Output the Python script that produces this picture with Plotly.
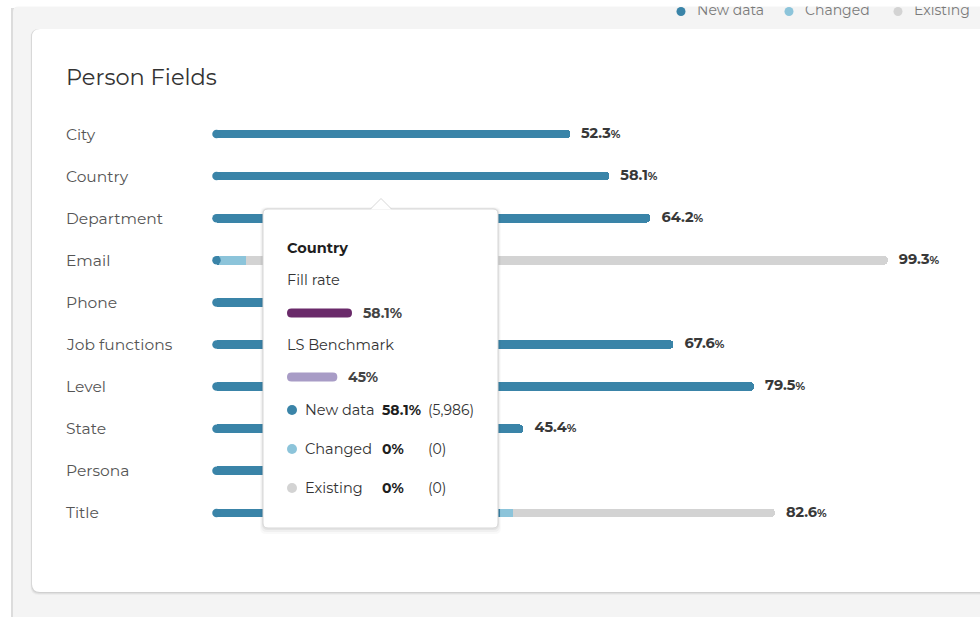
import plotly.graph_objects as go

# ---------------- data ----------------
categories = ["City", "Country", "Department", "Email", "Phone",
              "Job functions", "Level", "State", "Persona", "Title"]
new_data = [52.3, 58.1, 64.2, 0.3, 27.4, 67.6, 79.5, 45.4, 21.8, 41.9]
changed = [0, 0, 0, 4.0, 0, 0, 0, 0, 0, 2.0]
existing = [0, 0, 0, 95.0, 0, 0, 0, 0, 0, 38.7]
series_names = ["New data", "Changed", "Existing"]
series_colors = ["#3a84a8", "#8cc4da", "#d3d3d3"]

chart_title = "Person Fields"
tooltip_field = "Country"
tooltip_fill_rate = 58.1
tooltip_benchmark = 45
tooltip_pcts = [58.1, 0, 0]
tooltip_counts = [5986, 0, 0]

# ---------------- layout helpers ----------------
W, H = 980, 617
X0, SX = 216.5, 6.76      # pixel of 0 %, pixels per %
Y0, SY = 134.0, 42.1      # pixel of first row, pixels per row
FONT = "Montserrat, Inter, sans-serif"

def px(x):
    return x / W

def py(y):
    return 1 - y / H

def rrect_path(x0, y0, x1, y1, r):
    pts = [
        ("M", [(x0 + r, y0)]), ("L", [(x1 - r, y0)]), ("Q", [(x1, y0), (x1, y0 + r)]),
        ("L", [(x1, y1 - r)]), ("Q", [(x1, y1), (x1 - r, y1)]),
        ("L", [(x0 + r, y1)]), ("Q", [(x0, y1), (x0, y1 - r)]),
        ("L", [(x0, y0 + r)]), ("Q", [(x0, y0), (x0 + r, y0)]),
    ]
    s = ""
    for cmd, ps in pts:
        s += cmd + " " + " ".join(f"{px(a):.5f},{py(b):.5f}" for a, b in ps) + " "
    return s + "Z"

def pill_path(x0, x1, yc, h):
    r = h / 2
    return rrect_path(x0, yc - r, x1, yc + r, r)

n = len(categories)
idx = list(range(n))
totals = [round(a + b + c, 1) for a, b, c in zip(new_data, changed, existing)]

fig = go.Figure()

# left rounded caps of bars
fig.add_trace(go.Scatter(
    x=[0] * n, y=idx, mode="markers",
    marker=dict(size=8.5, color=series_colors[0], line=dict(width=0)),
    hoverinfo="skip", showlegend=False))

for name, vals, col in zip(series_names, [new_data, changed, existing], series_colors):
    fig.add_trace(go.Bar(
        x=vals, y=idx, orientation="h", name=name, width=0.205,
        marker=dict(color=col, line=dict(width=0), cornerradius=4),
        hoverinfo="skip", showlegend=False))

# value labels
labels = [f"<b>{t:.1f}</b><span style='font-size:11px'><b>%</b></span>" for t in totals]
fig.add_trace(go.Scatter(
    x=totals, y=idx, mode="markers+text", text=labels, textposition="middle right",
    marker=dict(size=16, opacity=0),
    textfont=dict(family=FONT, size=14.5, color="#383838"),
    hoverinfo="skip", showlegend=False))

# legend (top strip, partly hidden)
legend_dot_x = [681, 789, 898]
legend_txt_x = [697, 805, 914]
fig.add_trace(go.Scatter(
    x=legend_dot_x, y=[11.5] * 3, mode="markers",
    marker=dict(size=9, color=series_colors, line=dict(width=0)),
    xaxis="x2", yaxis="y2", hoverinfo="skip", showlegend=False))
fig.add_trace(go.Scatter(
    x=legend_txt_x, y=[11.5] * 3, mode="text", text=series_names,
    textposition="middle right",
    textfont=dict(family=FONT, size=14, color="#7a7a7a"),
    xaxis="x2", yaxis="y2", hoverinfo="skip", showlegend=False))

shapes = []
# page container (gray) with left shadow
shapes.append(dict(type="rect", xref="paper", yref="paper", x0=px(11), x1=px(14), y0=py(8), y1=py(H),
                   fillcolor="#dcdcdc", line=dict(width=0), layer="below"))
shapes.append(dict(type="path", xref="paper", yref="paper", path=rrect_path(13, 6, W + 20, H + 20, 6),
                   fillcolor="#f4f4f4", line=dict(width=0), layer="below"))
# card shadow + card
for off, a in [(3, 0.03), (2, 0.05), (1, 0.07)]:
    shapes.append(dict(type="path", xref="paper", yref="paper",
                       path=rrect_path(32 - off / 2, 29, W + 20, 592 + off, 8),
                       fillcolor=f"rgba(0,0,0,{a})", line=dict(width=0), layer="below"))
shapes.append(dict(type="path", xref="paper", yref="paper", path=rrect_path(32, 29, W + 20, 592, 8),
                   fillcolor="#ffffff", line=dict(width=0), layer="below"))

# white strip on top hiding legend tops
shapes.append(dict(type="rect", xref="paper", yref="paper", x0=0, x1=1, y0=py(6.5), y1=1,
                   fillcolor="#ffffff", line=dict(width=0), layer="above"))

# tooltip
TX0, TY0, TX1, TY1 = 263, 209, 498, 528
for off, a in [(6, 0.025), (4, 0.035), (2, 0.05)]:
    shapes.append(dict(type="path", xref="paper", yref="paper",
                       path=rrect_path(TX0 - off / 2, TY0 - off / 3, TX1 + off / 2, TY1 + off, 6),
                       fillcolor=f"rgba(0,0,0,{a})", line=dict(width=0), layer="above"))
shapes.append(dict(type="path", xref="paper", yref="paper", path=rrect_path(TX0, TY0, TX1, TY1, 5),
                   fillcolor="#ffffff", line=dict(color="#d8d8d8", width=1), layer="above"))
# arrow
ax = 381
shapes.append(dict(type="path", xref="paper", yref="paper",
                   path=f"M {px(ax-10.5)},{py(TY0+0.5)} L {px(ax)},{py(TY0-10.5)} L {px(ax+10.5)},{py(TY0+0.5)} Z",
                   fillcolor="#ffffff", line=dict(width=0), layer="above"))
shapes.append(dict(type="path", xref="paper", yref="paper",
                   path=f"M {px(ax-10.5)},{py(TY0)} L {px(ax)},{py(TY0-10.5)} L {px(ax+10.5)},{py(TY0)}",
                   fillcolor="rgba(0,0,0,0)", line=dict(color="#d8d8d8", width=1), layer="above"))

TSC = 1.119  # px per % inside tooltip
shapes.append(dict(type="path", xref="paper", yref="paper",
                   path=pill_path(287, 287 + tooltip_fill_rate * TSC, 313, 9),
                   fillcolor="#6a2a6a", line=dict(width=0), layer="above"))
shapes.append(dict(type="path", xref="paper", yref="paper",
                   path=pill_path(287, 287 + tooltip_benchmark * TSC, 377, 9),
                   fillcolor="#a89cc6", line=dict(width=0), layer="above"))
row_y = [410, 449, 488]
for yy, col in zip(row_y, series_colors):
    shapes.append(dict(type="circle", xref="paper", yref="paper",
                       x0=px(287), x1=px(297), y0=py(yy + 5), y1=py(yy - 5),
                       fillcolor=col, line=dict(width=0), layer="above"))

annotations = []
def ann(text, x, y, size=14, color="#333333"):
    annotations.append(dict(text=text, x=px(x), y=py(y), xref="paper", yref="paper",
                            xanchor="left", yanchor="middle", showarrow=False,
                            font=dict(family=FONT, size=size, color=color)))

ann(chart_title, 64, 77, size=22.5, color="#333333")
for i, c in enumerate(categories):
    annotations.append(dict(text=c, x=px(64), y=i, xref="paper", yref="y",
                            xanchor="left", yanchor="middle", showarrow=False,
                            font=dict(family=FONT, size=15.5, color="#555555")))

ann(f"<b>{tooltip_field}</b>", 285, 248, size=14.5, color="#1e1e1e")
ann("Fill rate", 285, 280, size=14.5, color="#333333")
ann(f"<b>{tooltip_fill_rate:g}%</b>", 361, 313, size=14, color="#444444")
ann("LS Benchmark", 285, 345, size=14.5, color="#333333")
ann(f"<b>{tooltip_benchmark:g}%</b>", 346, 377, size=14, color="#444444")
for yy, nm, pc, ct in zip(row_y, series_names, tooltip_pcts, tooltip_counts):
    ann(nm, 303, yy, size=14.5, color="#333333")
    ann(f"<b>{pc:g}%</b>", 380, yy, size=14, color="#1e1e1e")
    ann(f"({ct:,})", 426, yy, size=14, color="#333333")

fig.update_layout(
    width=W, height=H, margin=dict(l=0, r=0, t=0, b=0),
    paper_bgcolor="#ffffff", plot_bgcolor="rgba(0,0,0,0)",
    barmode="stack", showlegend=False,
    xaxis=dict(range=[-X0 / SX, (W - X0) / SX], visible=False, fixedrange=True),
    yaxis=dict(range=[(H - Y0) / SY, -Y0 / SY], visible=False, fixedrange=True),
    xaxis2=dict(range=[0, W], overlaying="x", visible=False, domain=[0, 1]),
    yaxis2=dict(range=[H, 0], overlaying="y", visible=False, domain=[0, 1]),
    shapes=shapes, annotations=annotations,
    font=dict(family=FONT),
    hovermode=False,
)

fig.write_html("out.html", config={"displayModeBar": False})
